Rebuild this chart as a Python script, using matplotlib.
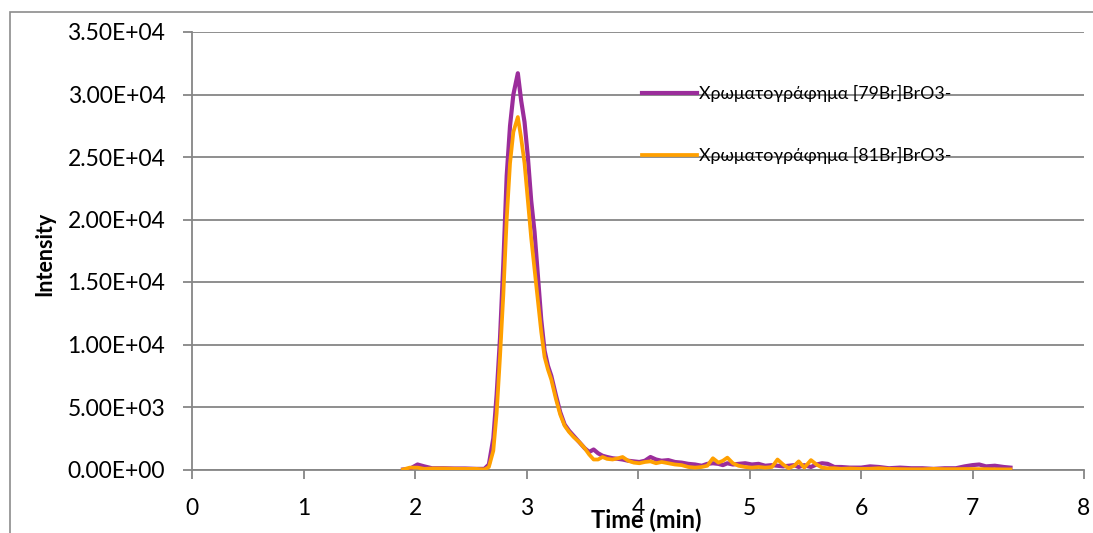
import matplotlib
matplotlib.use("Agg")
import matplotlib.pyplot as plt
from matplotlib.patches import Rectangle
from matplotlib.lines import Line2D

time_min = [1.89, 1.95, 2.02, 2.08, 2.15, 2.25, 2.35, 2.45, 2.55, 2.62, 2.66, 2.70, 2.73, 2.76,
            2.79, 2.82, 2.85, 2.88, 2.92, 2.95, 2.98, 3.01, 3.04, 3.07, 3.10, 3.13, 3.16, 3.19,
            3.22, 3.26, 3.30, 3.34, 3.38, 3.42, 3.47, 3.52, 3.56, 3.60, 3.64, 3.68, 3.72, 3.77,
            3.82, 3.86, 3.91, 3.96, 4.01, 4.06, 4.11, 4.16, 4.21, 4.27, 4.33, 4.39, 4.45, 4.51,
            4.57, 4.62, 4.67, 4.72, 4.76, 4.80, 4.85, 4.90, 4.96, 5.02, 5.08, 5.14, 5.20, 5.25,
            5.30, 5.35, 5.40, 5.44, 5.49, 5.55, 5.60, 5.65, 5.70, 5.76, 5.82, 5.90, 6.00, 6.08,
            6.16, 6.25, 6.35, 6.45, 6.55, 6.65, 6.75, 6.85, 6.93, 7.00, 7.06, 7.12, 7.20, 7.28,
            7.34]

br79 = [0, 50, 400, 250, 100, 100, 80, 80, 50, 50, 400, 2500, 6000, 10500,
        16500, 23500, 27500, 30000, 31700, 29500, 27800, 25000, 21500, 19000, 15500, 12000, 9500, 8300,
        7500, 6000, 4600, 3600, 3100, 2700, 2200, 1700, 1400, 1600, 1300, 1100, 1000, 900,
        850, 800, 700, 650, 600, 700, 1000, 800, 700, 750, 600, 550, 450, 400,
        300, 450, 500, 450, 350, 500, 400, 450, 500, 400, 450, 300, 350, 300,
        250, 300, 350, 200, 350, 200, 400, 500, 450, 200, 200, 150, 150, 250,
        200, 100, 150, 100, 100, 50, 100, 100, 250, 350, 400, 250, 300, 200,
        150]

br81 = [0, 150, 150, 50, 80, 80, 60, 50, 50, 0, 200, 1500, 4500, 9000,
        14000, 20000, 24500, 27000, 28200, 26500, 24500, 21500, 18500, 16000, 13500, 11000, 9000, 8000,
        7200, 5700, 4400, 3500, 3000, 2600, 2200, 1700, 1200, 800, 800, 1000, 850, 800,
        900, 1000, 700, 550, 500, 600, 650, 500, 600, 500, 400, 350, 200, 150,
        200, 300, 900, 550, 700, 950, 500, 300, 200, 150, 200, 150, 200, 800,
        400, 100, 300, 650, 150, 750, 400, 150, 100, 100, 50, 80, 50, 60,
        100, 50, 30, 20, 20, 50, 30, 30, 40, 40, 30, 30, 20, 10,
        10]

series_labels = ["Χρωματογράφημα [79Br]BrO3-", "Χρωματογράφημα [81Br]BrO3-"]
y_ticks = [0, 5000, 10000, 15000, 20000, 25000, 30000, 35000]
y_tick_labels = ["0.00E+00", "5.00E+03", "1.00E+04", "1.50E+04", "2.00E+04", "2.50E+04", "3.00E+04", "3.50E+04"]
x_ticks = [0, 1, 2, 3, 4, 5, 6, 7, 8]

plt.rcParams['font.family'] = ['Lato', 'DejaVu Sans']

W, H = 1093, 533
AX_L, AX_R, AX_B, AX_T = 192.4, 1084.0, 469.5, 32.0
AW, AH = AX_R - AX_L, AX_B - AX_T
fig = plt.figure(figsize=(W / 100, H / 100), dpi=100)
fig.patches.append(Rectangle((10 / W, -0.1), 1.2, 1 - 12 / H + 0.1, transform=fig.transFigure,
                             fill=False, edgecolor='#8c8c8c', linewidth=1.2, clip_on=False))

ax = fig.add_axes([AX_L / W, 1 - AX_B / H, AW / W, AH / H])
grid_c = '#868686'
ax.set_xlim(0, 8)
ax.set_ylim(0, 35000)
ax.set_yticks(y_ticks)
ax.set_yticklabels(y_tick_labels)
ax.set_xticks(x_ticks)
ax.yaxis.grid(True, color=grid_c, linewidth=1.3)
ax.set_axisbelow(True)
for s in ['top', 'right']:
    ax.spines[s].set_visible(False)
for s in ['left', 'bottom']:
    ax.spines[s].set_color(grid_c)
    ax.spines[s].set_linewidth(1.3)
ax.tick_params(axis='both', colors=grid_c, length=6.5, width=1.3, labelcolor='black', labelsize=16.5)
ax.tick_params(axis='x', pad=14)
ax.tick_params(axis='y', pad=13)

purple = '#9B2D9B'
orange = '#FFA000'
ax.plot(time_min, br79, color=purple, linewidth=3.0, solid_joinstyle='round', zorder=3)
ax.plot(time_min, br81, color=orange, linewidth=2.7, solid_joinstyle='round', zorder=4)

handles = [Line2D([], [], color=purple, linewidth=3.0), Line2D([], [], color=orange, linewidth=2.7)]
leg = ax.legend(handles, series_labels, loc='upper left',
                bbox_to_anchor=((642 - AX_L) / AW, (AX_B - 85) / AH),
                frameon=False, fontsize=12.8, handlelength=3.1, handletextpad=0.12, labelspacing=2.55,
                borderaxespad=0, borderpad=0)

ax.set_xlabel("Time (min)", fontsize=17, fontweight='bold')
ax.xaxis.label.set_verticalalignment('top')
ax.xaxis.set_label_coords((646 - AX_L) / AW, (AX_B - 509) / AH)
ax.set_ylabel("Intensity", fontsize=15.5, fontweight='bold')
ax.yaxis.label.set(va='center', ha='center', rotation_mode='default')
ax.yaxis.set_label_coords((45 - AX_L) / AW, (AX_B - 253.5) / AH)

fig.savefig("out.png", dpi=100)
